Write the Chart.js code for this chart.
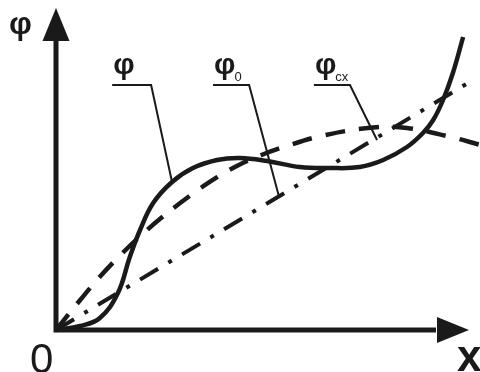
<!DOCTYPE html>
<html>
<head>
<meta charset="utf-8">
<script src="https://cdn.jsdelivr.net/npm/chart.js@4/dist/chart.umd.min.js"></script>
<style>
  body { margin: 0; background: #fff; }
  canvas { display: block; }
</style>
</head>
<body>
<canvas id="myChart" width="480" height="372"></canvas>
<script>
// Curve φ (solid)
const phiX = [0, 5.9, 10.7, 15.1, 18, 20.5, 23.7, 28.3, 33.4, 39.3, 44.9, 51.5, 59.5, 66.8, 74.1, 79.8, 85.6, 89.5, 92, 94.4, 96.8, 99.3];
const phiY = [0, 1, 3, 9.25, 18.25, 25, 31.75, 37, 40.5, 42.5, 43, 42.25, 40.75, 40.5, 40.75, 42.5, 45.75, 49.25, 52.5, 57.5, 64.25, 73.25];

// Curve φcx (dashed)
const phiCxX = [0, 5.9, 10.7, 15.6, 20.5, 25.4, 32.7, 39.3, 44.1, 49.8, 55.4, 65.1, 77.3, 85.6, 96.1, 103.4];
const phiCxY = [0, 7.5, 13.3, 18.6, 23.4, 27.8, 33.6, 38.2, 41, 43.6, 45.7, 48.6, 50.6, 50.5, 48.3, 46.3];

// Curve φ0 (dash-dot straight line)
const phi0X = [0, 101.7];
const phi0Y = [0, 62.5];

// Leader labels: name, subscript, underline span, pointer target (data units)
const callouts = [
  { text: "φ", sub: "", x1: 13.7, x2: 23.2, tx: 28.3, ty: 37 },
  { text: "φ", sub: "0", x1: 38.3, x2: 47.1, tx: 54.4, ty: 33.3 },
  { text: "φ", sub: "cx", x1: 62.9, x2: 71.7, tx: 78.3, ty: 47.5 }
];

function toPoints(xs, ys) {
  return xs.map((x, i) => ({ x: x, y: ys[i] }));
}

const INK = "#1a1a1a";

// Axes with arrowheads, axis names and the leader labels
const sketchPlugin = {
  id: "sketch",
  afterDatasetsDraw(chart) {
    const ctx = chart.ctx;
    const xs = chart.scales.x;
    const ys = chart.scales.y;
    const ox = xs.getPixelForValue(0);
    const oy = ys.getPixelForValue(0);
    const top = chart.chartArea.top;
    const right = chart.chartArea.right;

    ctx.save();
    ctx.strokeStyle = INK;
    ctx.fillStyle = INK;
    ctx.lineCap = "butt";

    // axis lines
    ctx.lineWidth = 5;
    ctx.beginPath();
    ctx.moveTo(ox, oy + 2.5);
    ctx.lineTo(ox, top + 30);
    ctx.moveTo(ox - 2.5, oy);
    ctx.lineTo(right - 30, oy);
    ctx.stroke();

    // arrowheads
    ctx.beginPath();
    ctx.moveTo(ox, top - 2);
    ctx.lineTo(ox + 13.5, top + 31);
    ctx.lineTo(ox - 13.5, top + 31);
    ctx.closePath();
    ctx.fill();
    ctx.beginPath();
    ctx.moveTo(right + 3, oy);
    ctx.lineTo(right - 29, oy - 13);
    ctx.lineTo(right - 29, oy + 13);
    ctx.closePath();
    ctx.fill();

    // axis names
    ctx.textAlign = "left";
    ctx.textBaseline = "alphabetic";
    ctx.font = "bold 32px 'Liberation Sans', Arial, sans-serif";
    ctx.fillText("φ", 9, 34);
    ctx.font = "42px 'Liberation Sans', Arial, sans-serif";
    ctx.fillText("0", 30, 373);
    ctx.font = "bold 44px 'Liberation Sans', Arial, sans-serif";
    ctx.fillText("x", 457, 371);

    // callouts
    const lineY = ys.getPixelForValue(61.25);
    callouts.forEach(c => {
      const a = xs.getPixelForValue(c.x1);
      const b = xs.getPixelForValue(c.x2);
      ctx.lineWidth = 2;
      ctx.beginPath();
      ctx.moveTo(a, lineY);
      ctx.lineTo(b, lineY);
      ctx.lineTo(xs.getPixelForValue(c.tx), ys.getPixelForValue(c.ty));
      ctx.stroke();
      ctx.font = "bold 30px 'Liberation Sans', Arial, sans-serif";
      const left = a + 1;
      ctx.fillText(c.text, left, lineY - 11);
      if (c.sub) {
        const w = ctx.measureText(c.text).width;
        ctx.font = "13px 'Liberation Sans', Arial, sans-serif";
        ctx.fillText(c.sub, left + w - 1, lineY - 4);
      }
    });
    ctx.restore();
  }
};

const data = {
  datasets: [
    {
      label: "φ",
      data: toPoints(phiX, phiY),
      borderColor: INK,
      borderWidth: 4.5,
      tension: 0.4,
      showLine: true,
      pointRadius: 0,
      clip: false
    },
    {
      label: "φcx",
      data: toPoints(phiCxX, phiCxY),
      borderColor: INK,
      borderWidth: 4.5,
      borderDash: [20, 14],
      tension: 0.4,
      showLine: true,
      pointRadius: 0,
      clip: false
    },
    {
      label: "φ0",
      data: toPoints(phi0X, phi0Y),
      borderColor: INK,
      borderWidth: 4,
      borderDash: [21, 12, 4, 12],
      showLine: true,
      pointRadius: 0,
      clip: false
    }
  ]
};

const config = {
  type: "scatter",
  data,
  options: {
    responsive: false,
    animation: false,
    events: [],
    layout: { padding: { left: 56, right: 14, top: 10, bottom: 42 } },
    plugins: { legend: { display: false }, tooltip: { enabled: false } },
    scales: {
      x: { type: "linear", min: 0, max: 100, display: false },
      y: { type: "linear", min: 0, max: 80, display: false }
    }
  },
  plugins: [sketchPlugin]
};

new Chart(document.getElementById("myChart"), config);
</script>
</body>
</html>
